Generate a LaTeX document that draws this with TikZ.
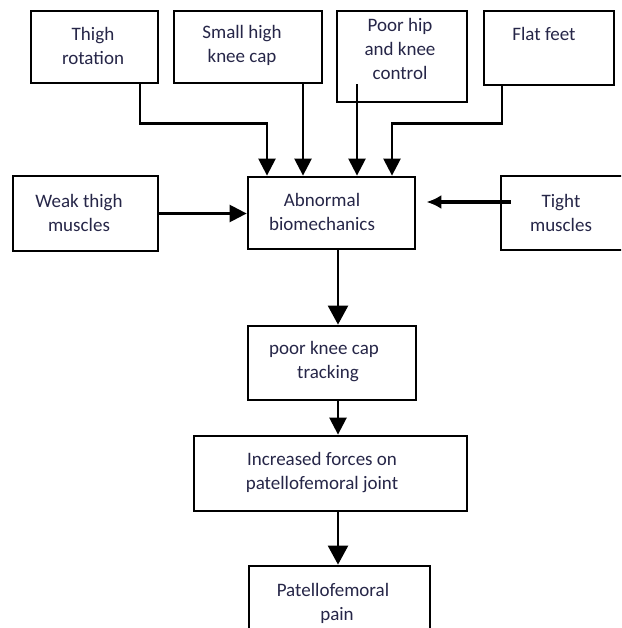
\documentclass[tikz,border=0pt]{standalone}
\usepackage{fontspec}
\setmainfont{Carlito}
\usetikzlibrary{arrows.meta,calc}
\definecolor{txtc}{RGB}{38,38,72}
\begin{document}
\begin{tikzpicture}[x=1pt,y=-1pt,
  box/.style={draw=black,line width=2.8pt,fill=white,inner sep=0pt},
  txt/.style={align=center,text=txtc,inner sep=0pt,font=\fontsize{19}{24}\selectfont},
  arr/.style={draw=black,line width=2.5pt,-{Triangle[length=17pt,width=17pt]}},
  arrbig/.style={draw=black,line width=2.5pt,-{Triangle[length=19pt,width=20pt]}},
  arrthick/.style={draw=black,line width=4.5pt,-{Latex[length=15pt,width=14pt]}}]
\clip (0,0) rectangle (621,628);
\fill[white] (0,0) rectangle (621,628);
% boxes
\node[box,minimum width=127pt,minimum height=72pt] (b1) at (94.5,47) {};
\node[box,minimum width=148pt,minimum height=72pt] (b2) at (248,47) {};
\node[box,minimum width=130pt,minimum height=91pt] (b3) at (402,56.5) {};
\node[box,minimum width=130pt,minimum height=74pt] (b4) at (549,48) {};
\node[box,minimum width=145pt,minimum height=75pt] (weak) at (85.5,213.5) {};
\node[box,minimum width=167pt,minimum height=72pt] (abn) at (331.5,213) {};
\node[box,minimum width=139pt,minimum height=74pt] (tight) at (570.5,213) {};
\node[box,minimum width=168pt,minimum height=74pt] (pk) at (332,363) {};
\node[box,minimum width=273pt,minimum height=75pt] (inc) at (330.5,473.5) {};
\node[box,minimum width=181pt,minimum height=84pt] (pain) at (339.5,608) {};
% texts
\node[txt] (t1) at (93,45.5) {Thigh\\rotation};
\node[txt] (t2) at (242,45.5) {Small high\\knee cap};
\node[txt] (t3) at (400,49) {Poor hip\\and knee\\control};
\node[txt] (t4) at (544,34) {Flat feet};
\node[txt] (t5) at (79,212.5) {Weak thigh\\muscles};
\node[txt] (t6) at (322,212) {Abnormal\\biomechanics};
\node[txt] (t7) at (561,213) {Tight\\muscles};
\node[txt] (t8) at (324,362) {poor knee cap\\\hspace*{8pt}tracking};
\node[txt] (t9) at (322,473) {Increased forces on\\patellofemoral joint};
\node[txt] (t10) at (333,603) {Patellofemoral\\\hspace*{8pt}pain};
% connectors
\coordinate (s1) at ([xshift=45.5pt]b1.south);
\coordinate (e1) at ([xshift=-64.5pt]abn.north);
\draw[arr] (s1) -- ++(0,39) -| (e1);
\coordinate (s2) at ([xshift=55pt]b2.south);
\draw[arr] (s2) -- (s2 |- abn.north);
\coordinate (s3) at ([xshift=-45pt,yshift=19pt]b3.south);
\draw[arr] (s3) -- (s3 |- abn.north);
\coordinate (s4) at ([xshift=-47pt]b4.south);
\coordinate (e4) at ([xshift=60.5pt]abn.north);
\draw[arr] (s4) -- ++(0,37) -| (e4);
\draw[arr] (weak.east) -- (weak.east -| abn.west);
\coordinate (s5) at ([xshift=11pt,yshift=11pt]tight.west);
\coordinate (e5) at ([xshift=10pt]abn.east);
\draw[arrthick] (s5) -- (e5 |- s5);
\coordinate (s6) at ([xshift=6.5pt]abn.south);
\draw[arrbig] (s6) -- (s6 |- pk.north);
\draw[arr] (s6 |- pk.south) -- (s6 |- inc.north);
\draw[arrbig] (s6 |- inc.south) -- (s6 |- pain.north);
\end{tikzpicture}
\end{document}
